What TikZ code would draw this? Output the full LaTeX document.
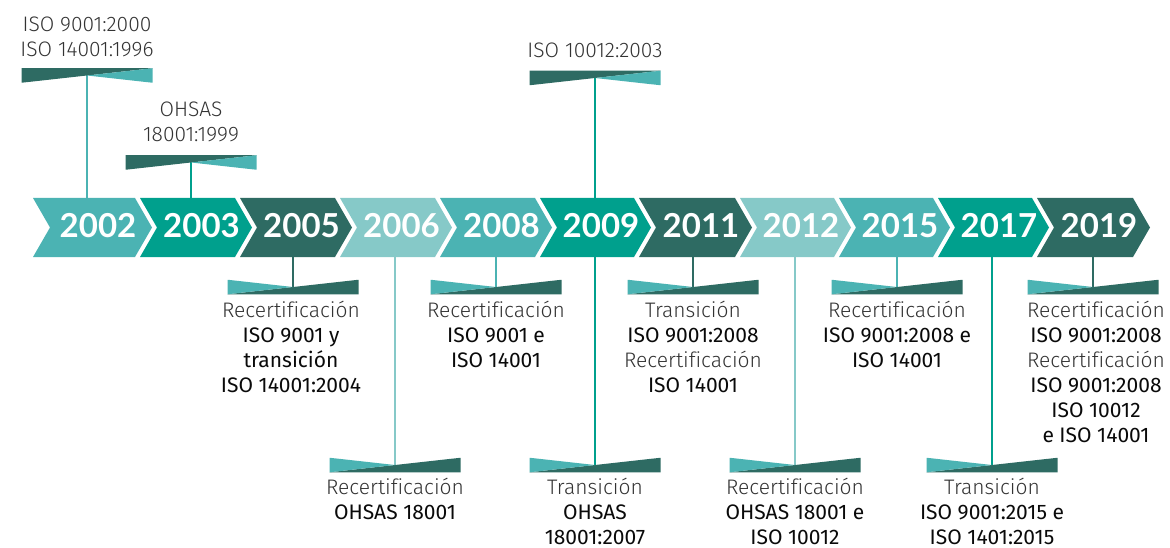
\documentclass[tikz,border=0pt]{standalone}
\usepackage{fontspec}
\usepackage{tikz}
\newfontfamily\yearfont{Lato}
\newfontfamily\lightfnt{Fira Sans Light}[Ligatures=NoCommon]
\newfontfamily\medfnt{Fira Sans}[Ligatures=NoCommon]
\definecolor{cLight}{HTML}{4BB3B3}
\definecolor{cGreen}{HTML}{00A08D}
\definecolor{cDark}{HTML}{2E6B63}
\definecolor{cPale}{HTML}{86C9C8}
\definecolor{txtgray}{HTML}{333333}
\definecolor{txtblack}{HTML}{0A0A0A}
\newcommand{\gl}[1]{{\color{txtgray}\lightfnt #1}}
\newcommand{\bl}[1]{{\color{txtblack}\medfnt #1}}
\tikzset{%
  yearlbl/.style={            % year inside the arrow
    font=\yearfont\bfseries\fontsize{33}{33}\selectfont,
    text=white, inner sep=0pt},
  info/.style={
    font=\fontsize{21}{25}\selectfont,
    align=center, inner sep=0pt},
  conn/.style={line width=2pt},
  ribbon/.pic={               % twisted banner
    \fill[cDark] (-65.5,-7.25) -- (65.5,-7.25) -- (-65.5,7.25) -- cycle;
    \fill[cLight] (0,0) -- (65.5,-7.25) -- (65.5,7.25) -- cycle;
  }
}

\begin{document}
\begin{tikzpicture}[x=1pt,y=-1pt]
    \useasboundingbox (0,0) rectangle (1170,548);

    % connectors to the banners
    \foreach \yr/\px/\c/\ry in {2002/87/cLight/75.5, 2003/191/cGreen/162.5, 2009/595/cGreen/78}{
      \coordinate (r\yr) at (\px,\ry);
      \coordinate (bt\yr) at (\px,198);
      \draw[conn,\c] (bt\yr) -- (r\yr);
      \pic at (r\yr) {ribbon};
    }
    \foreach \yr/\px/\c/\ry in {2005/293/cDark/287, 2006/395/cPale/465,
        2008/496/cLight/287, 2009/595/cGreen/465, 2011/693/cDark/287,
        2012/795/cPale/465, 2015/897/cLight/287, 2017/992/cGreen/465,
        2019/1093/cDark/287}{
      \coordinate (s\yr) at (\px,\ry);
      \coordinate (bb\yr) at (\px,257);
      \draw[conn,\c] (bb\yr) -- (s\yr);
      \pic[rotate=180] at (s\yr) {ribbon};
    }

    % the arrows
    \foreach \yr/\l/\r/\c in {2002/33/135/cLight, 2003/140/235/cGreen,
        2005/240/335/cDark, 2006/340/435/cPale, 2008/440/535/cLight,
        2009/540/634/cGreen, 2011/639/735/cDark, 2012/740/834/cPale,
        2015/839/933/cLight, 2017/938/1032/cGreen, 2019/1037/1133/cDark}{
      \fill[\c] (\l,198) -- (\r,198) -- (\r+17,227.5) -- (\r,257)
        -- (\l,257) -- (\l+17,227.5) -- cycle;
      \node[yearlbl, anchor=base] (y\yr) at ({(\l+\r)/2+14},238) {\yr};
    }

    % texts above
    \node[info, anchor=south] (t2002) at (87,57)
      {\gl{ISO 9001:2000}\\ \gl{ISO 14001:1996}};
    \node[info, anchor=south] (t2003) at (191,142)
      {\gl{OHSAS}\\ \gl{18001:1999}};
    \node[info, anchor=south] (t2009) at (595,58) {\gl{ISO 10012:2003}};

    % texts below
    \node[info, anchor=north] (b2005) at (291,301)
      {\gl{Recertificación}\\ \bl{ISO 9001 y}\\ \bl{transición}\\ \bl{ISO 14001:2004}};
    \node[info, anchor=north] (b2008) at (496,301)
      {\gl{Recertificación}\\ \bl{ISO 9001 e}\\ \bl{ISO 14001}};
    \node[info, anchor=north] (b2011) at (693,301)
      {\gl{Transición}\\ \bl{ISO 9001:2008}\\ \gl{Recertificación}\\ \bl{ISO 14001}};
    \node[info, anchor=north] (b2015) at (897,301)
      {\gl{Recertificación}\\ \bl{ISO 9001:2008 e}\\ \bl{ISO 14001}};
    \node[info, anchor=north] (b2019) at (1096,301)
      {\gl{Recertificación}\\ \bl{ISO 9001:2008}\\ \gl{Recertificación}\\
       \bl{ISO 9001:2008}\\ \bl{ISO 10012}\\ \bl{e ISO 14001}};
    \node[info, anchor=north] (b2006) at (395,478)
      {\gl{Recertificación}\\ \bl{OHSAS 18001}};
    \node[info, anchor=north] (b2009) at (595,478)
      {\gl{Transición}\\ \bl{OHSAS}\\ \bl{18001:2007}};
    \node[info, anchor=north] (b2012) at (795,478)
      {\gl{Recertificación}\\ \bl{OHSAS 18001 e}\\ \bl{ISO 10012}};
    \node[info, anchor=north] (b2017) at (992,478)
      {\gl{Transición}\\ \bl{ISO 9001:2015 e}\\ \bl{ISO 1401:2015}};

\end{tikzpicture}
\end{document}
